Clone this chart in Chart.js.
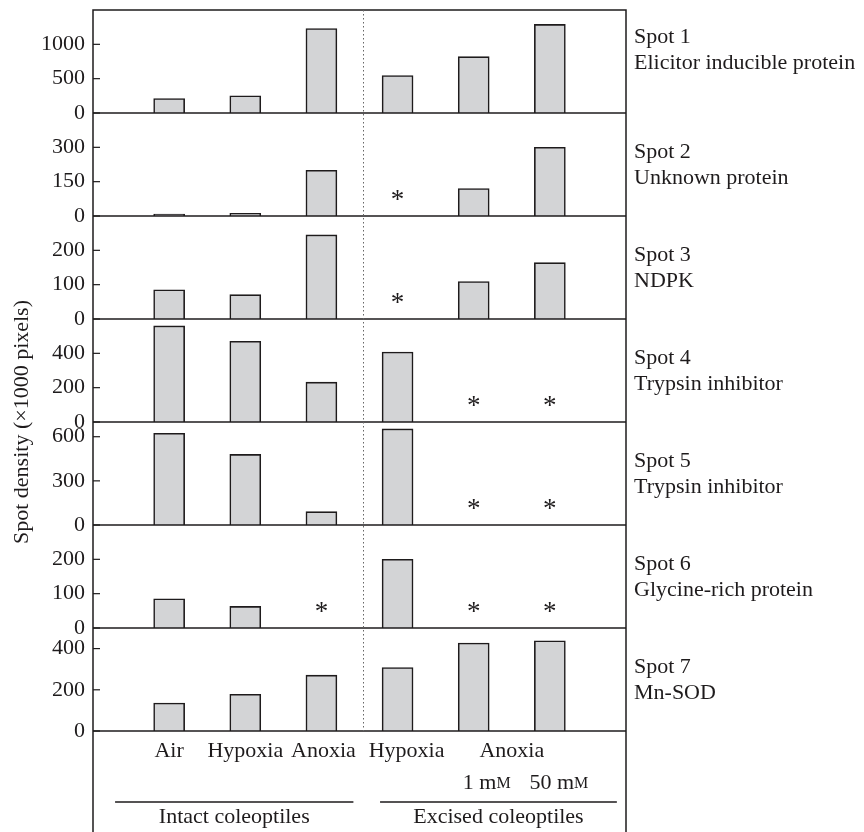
<!DOCTYPE html>
<html>
<head>
<meta charset="utf-8">
<script src="https://cdn.jsdelivr.net/npm/chart.js@4.4.1/dist/chart.umd.min.js"></script>
<style>
  html, body { margin: 0; padding: 0; background: #fff; }
  #wrap { width: 864px; height: 832px; }
</style>
</head>
<body>
<div id="wrap"><canvas id="spots" width="864" height="832"></canvas></div>
<script>
// treatments along the x axis
const treatments = ['Air', 'Hypoxia', 'Anoxia', 'Hypoxia', 'Anoxia', 'Anoxia'];
const concentrations = ['', '', '', '', '1 mM', '50 mM'];
const groups = ['Intact coleoptiles', 'Excised coleoptiles'];

const spotNames = ['Spot 1', 'Spot 2', 'Spot 3', 'Spot 4', 'Spot 5', 'Spot 6', 'Spot 7'];
const proteins = ['Elicitor inducible protein', 'Unknown protein', 'NDPK', 'Trypsin inhibitor',
                  'Trypsin inhibitor', 'Glycine-rich protein', 'Mn-SOD'];

// spot density (x1000 pixels), null = not detected (*)
const spot1 = [210, 250, 1230, 545, 820, 1290];
const spot2 = [8, 12, 200, null, 120, 300];
const spot3 = [85, 71, 245, null, 109, 164];
const spot4 = [560, 470, 232, 408, null, null];
const spot5 = [623, 480, 91, 653, null, null];
const spot6 = [85, 63, null, 200, null, null];
const spot7 = [136, 178, 271, 308, 427, 438];

const axisMax = [1500, 450, 300, 600, 700, 300, 500];
const ticks1 = [0, 500, 1000];
const ticks2 = [0, 150, 300];
const ticks3 = [0, 100, 200];
const ticks4 = [0, 200, 400];
const ticks5 = [0, 300, 600];
const ticks6 = [0, 100, 200];
const ticks7 = [0, 200, 400];

const series = [spot1, spot2, spot3, spot4, spot5, spot6, spot7];
const tickSets = [ticks1, ticks2, ticks3, ticks4, ticks5, ticks6, ticks7];

const ink = '#1e1b1c';
const serif = '"Liberation Serif", "Times New Roman", serif';

const scales = {
    x: { type: 'linear', min: -1, max: 6, offset: false, display: false }
};
series.forEach((vals, i) => {
    scales['y' + (i + 1)] = {
        type: 'linear',
        position: 'left',
        stack: 'spots',
        stackWeight: 1,
        weight: 7 - i,
        min: 0,
        max: axisMax[i],
        afterBuildTicks: sc => { sc.ticks = tickSets[i].map(v => ({ value: v })); },
        afterFit: sc => {
            sc.width = 93;
            sc.paddingTop = 0;
            sc.paddingBottom = 0;
        },
        grid: { display: false, drawTicks: false },
        border: { display: false },
        ticks: {
            padding: 8,
            autoSkip: false,
            color: ink,
            font: { family: serif, size: 22 },
            callback: v => String(v)
        }
    };
});

// small-caps "M" for mM
function drawConc(ctx, text, cx, y) {
    const head = text.slice(0, -1);
    ctx.font = '22px ' + serif;
    const w1 = ctx.measureText(head).width;
    ctx.font = '16px ' + serif;
    const w2 = ctx.measureText('M').width;
    const left = cx - (w1 + w2) / 2;
    ctx.textAlign = 'left';
    ctx.font = '22px ' + serif;
    ctx.fillText(head, left, y);
    ctx.font = '16px ' + serif;
    ctx.fillText('M', left + w1, y + 1);
}

const decor = {
    id: 'decor',
    afterDraw(chart) {
        const ctx = chart.ctx;
        const xs = chart.scales.x;
        const area = chart.chartArea;
        ctx.save();
        ctx.strokeStyle = ink;
        ctx.fillStyle = ink;
        ctx.lineWidth = 1.5;

        // frame (open at the bottom)
        ctx.beginPath();
        ctx.moveTo(area.left, chart.height);
        ctx.lineTo(area.left, area.top);
        ctx.lineTo(area.right, area.top);
        ctx.lineTo(area.right, chart.height);
        ctx.stroke();

        series.forEach((vals, i) => {
            const ys = chart.scales['y' + (i + 1)];
            const y0 = ys.getPixelForValue(0);
            ctx.lineWidth = 1.5;
            ctx.beginPath();
            ctx.moveTo(area.left, y0);
            ctx.lineTo(area.right, y0);
            ctx.stroke();

            // inward tick marks
            ctx.lineWidth = 1.2;
            tickSets[i].forEach(v => {
                const y = ys.getPixelForValue(v);
                ctx.beginPath();
                ctx.moveTo(area.left, y);
                ctx.lineTo(area.left + 7, y);
                ctx.stroke();
            });

            // not detected
            ctx.font = '27px ' + serif;
            ctx.textAlign = 'center';
            ctx.textBaseline = 'alphabetic';
            vals.forEach((v, j) => {
                if (v === null) ctx.fillText('*', xs.getPixelForValue(j), y0 - 8);
            });

            // spot labels
            ctx.font = '22px ' + serif;
            const top = ys.top;
            const ly = top + (i === 0 ? 27 : 39);
            ctx.textAlign = 'left';
            ctx.textBaseline = 'middle';
            ctx.fillText(spotNames[i], area.right + 8, ly);
            ctx.fillText(proteins[i], area.right + 8, ly + 26);
        });

        // intact / excised divider
        ctx.save();
        ctx.strokeStyle = '#666';
        ctx.lineWidth = 1;
        ctx.setLineDash([1.5, 2.5]);
        const xd = Math.round(xs.getPixelForValue(2.55)) + 0.5;
        ctx.beginPath();
        ctx.moveTo(xd, area.top);
        ctx.lineTo(xd, area.bottom);
        ctx.stroke();
        ctx.restore();

        // treatment labels
        ctx.font = '22px ' + serif;
        ctx.textAlign = 'center';
        ctx.textBaseline = 'middle';
        const row1 = area.bottom + 20;
        ctx.fillText(treatments[0], xs.getPixelForValue(0), row1);
        ctx.fillText(treatments[1], xs.getPixelForValue(1), row1);
        ctx.fillText(treatments[2], xs.getPixelForValue(2) + 2, row1);
        ctx.fillText(treatments[3], xs.getPixelForValue(3) + 9, row1);
        ctx.fillText(treatments[4], xs.getPixelForValue(4.5), row1);
        const row2 = area.bottom + 52;
        drawConc(ctx, concentrations[4], xs.getPixelForValue(4) + 13, row2);
        drawConc(ctx, concentrations[5], xs.getPixelForValue(5) + 9, row2);

        // group underlines and names
        const lineY = area.bottom + 71;
        ctx.lineWidth = 1.5;
        ctx.beginPath();
        ctx.moveTo(xs.getPixelForValue(-0.71), lineY);
        ctx.lineTo(xs.getPixelForValue(2.42), lineY);
        ctx.moveTo(xs.getPixelForValue(2.77), lineY);
        ctx.lineTo(xs.getPixelForValue(5.88), lineY);
        ctx.stroke();
        ctx.font = '22px ' + serif;
        ctx.textAlign = 'center';
        ctx.fillText(groups[0], xs.getPixelForValue((-0.71 + 2.42) / 2), area.bottom + 86);
        ctx.fillText(groups[1], xs.getPixelForValue((2.77 + 5.88) / 2), area.bottom + 86);

        // y title
        ctx.save();
        ctx.translate(22, 422);
        ctx.rotate(-Math.PI / 2);
        ctx.fillText('Spot density (\u00d71000 pixels)', 0, 0);
        ctx.restore();

        ctx.restore();
    }
};

const ctx = document.getElementById('spots').getContext('2d');
new Chart(ctx, {
    type: 'bar',
    data: {
        datasets: series.map((vals, i) => ({
            data: vals.map((v, j) => ({ x: j, y: v })).filter(p => p.y !== null),
            yAxisID: 'y' + (i + 1),
            grouped: false,
            barThickness: 31,
            backgroundColor: '#d3d4d6',
            borderColor: ink,
            borderWidth: 1.6
        }))
    },
    options: {
        responsive: false,
        animation: false,
        layout: { padding: { top: 10, bottom: 101, left: 0, right: 238 } },
        plugins: { legend: { display: false }, tooltip: { enabled: false } },
        scales: scales
    },
    plugins: [decor]
});
</script>
</body>
</html>
